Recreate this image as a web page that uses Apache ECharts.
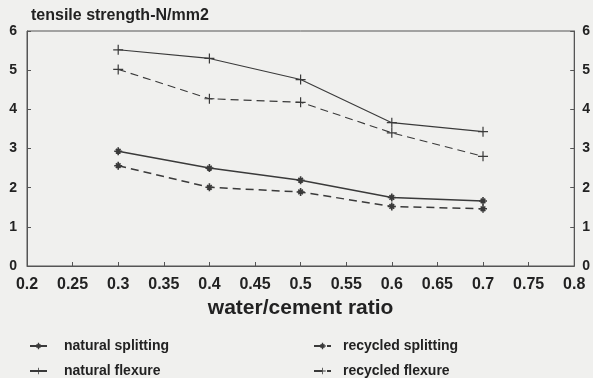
<!DOCTYPE html>
<html><head><meta charset="utf-8">
<script src="https://cdn.jsdelivr.net/npm/echarts@6/dist/echarts.min.js"></script>
<style>html,body{margin:0;padding:0;background:#f0f0ee;}#c{width:593px;height:378px;}</style>
</head><body><div id="c"></div>
<script>
const wcRatio = [0.3, 0.4, 0.5, 0.6, 0.7];
const naturalSplitting = [2.93, 2.50, 2.19, 1.75, 1.66];
const recycledSplitting = [2.56, 2.01, 1.89, 1.52, 1.46];
const naturalFlexure = [5.52, 5.30, 4.76, 3.66, 3.43];
const recycledFlexure = [5.02, 4.27, 4.18, 3.40, 2.80];

const PLUS = 'path://M4.4,0h1.2v4.4h4.4v1.2h-4.4v4.4h-1.2v-4.4h-4.4v-1.2h4.4z';
const STAR = 'path://M4,0h2v4h4v2h-4v4h-2v-4h-4v-2h4z M1.4,2.8 L2.8,1.4 L8.6,7.2 L7.2,8.6z M7.2,1.4 L8.6,2.8 L2.8,8.6 L1.4,7.2z';
const C = '#3a3a3a';
const FONT = '"Liberation Sans", Arial, sans-serif';

function pairs(vals){ return wcRatio.map((x,i)=>[x, vals[i]]); }
function mk(name, vals, dashed, sym, size, w){
  return {name, type:'line', data: pairs(vals), symbol: sym, symbolSize: size,
    lineStyle:{color:C, width:w, type: dashed ? [8,5] : 'solid'},
    itemStyle:{color:C}, emphasis:{disabled:true}};
}
const chart = echarts.init(document.getElementById('c'));
const axLabel = {color:'#222', fontFamily:FONT, fontWeight:'bold'};
function legText(pad){ return {color:'#222', fontFamily:FONT, fontWeight:'bold', fontSize:14, lineHeight:14, padding:[0,0,0,pad]}; }
chart.setOption({
  backgroundColor:'#f0f0ee',
  animation:false,
  title:{text:'tensile strength-N/mm2', left:26, top:3,
    textStyle:{color:'#222', fontFamily:FONT, fontWeight:'bold', fontSize:16}},
  grid:{left:27, right:15, top:31, bottom:112, show:true, borderColor:'#555', borderWidth:1},
  xAxis:{type:'value', min:0.2, max:0.8, interval:0.05,
    axisLine:{lineStyle:{color:'#555'}}, splitLine:{show:false},
    axisTick:{inside:true, length:4, lineStyle:{color:'#555'}},
    axisLabel:Object.assign({margin:11, fontSize:16, formatter:v=>String(parseFloat(v.toFixed(2)))}, axLabel),
    name:'water/cement ratio', nameLocation:'middle', nameGap:32,
    nameTextStyle:{color:'#222', fontFamily:FONT, fontWeight:'bold', fontSize:21}},
  yAxis:[
    {type:'value', min:0, max:6, interval:1, position:'left',
     axisLine:{show:true, lineStyle:{color:'#555'}}, splitLine:{show:false},
     axisTick:{show:true, inside:true, length:4, lineStyle:{color:'#555'}},
     axisLabel:Object.assign({margin:10, fontSize:14}, axLabel)},
    {type:'value', min:0, max:6, interval:1, position:'right',
     axisLine:{show:true, lineStyle:{color:'#555'}}, splitLine:{show:false},
     axisTick:{show:true, inside:true, length:4, lineStyle:{color:'#555'}},
     axisLabel:Object.assign({margin:8, fontSize:14}, axLabel)}
  ],
  legend:[
    {data:['natural splitting','natural flexure'], orient:'vertical', left:29, top:339, padding:0,
     itemWidth:17, itemHeight:8, itemGap:11, textStyle:legText(12)},
    {data:['recycled splitting','recycled flexure'], orient:'vertical', left:313, top:339, padding:0,
     itemWidth:17, itemHeight:8, itemGap:11, textStyle:legText(7)}
  ],
  series:[
    mk('natural splitting', naturalSplitting, false, STAR, 8, 1.5),
    mk('recycled splitting', recycledSplitting, true, STAR, 8, 1.5),
    mk('natural flexure', naturalFlexure, false, PLUS, 10, 1.1),
    mk('recycled flexure', recycledFlexure, true, PLUS, 10, 1.1)
  ]
});
</script></body></html>
